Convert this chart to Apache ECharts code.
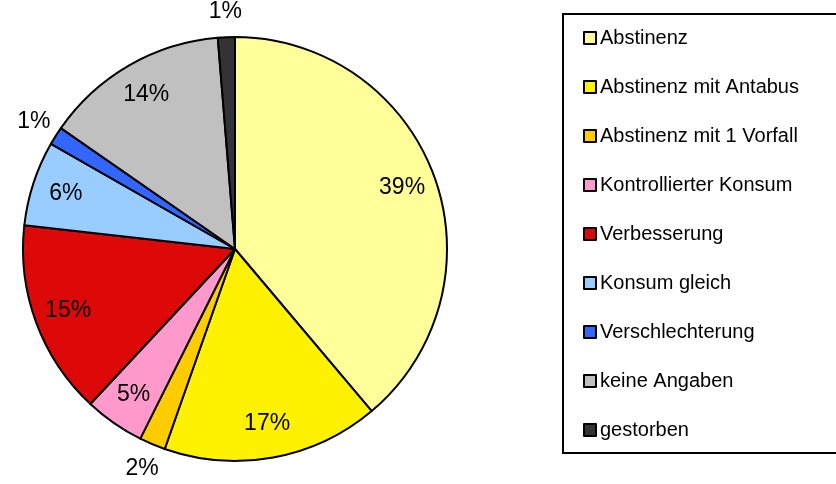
<!DOCTYPE html>
<html>
<head>
<meta charset="utf-8">
<script src="https://cdn.jsdelivr.net/npm/echarts@6/dist/echarts.min.js"></script>
<style>
    html, body { margin: 0; padding: 0; background: #fff; }
    #chart { width: 836px; height: 484px; }
</style>
</head>
<body>
<div id="chart"></div>
<script>
// Daten (Anteile in %, aus dem Bild geschätzt)
const categories = [
    'Abstinenz',
    'Abstinenz mit Antabus',
    'Abstinenz mit 1 Vorfall',
    'Kontrollierter Konsum',
    'Verbesserung',
    'Konsum gleich',
    'Verschlechterung',
    'keine Angaben',
    'gestorben',
];
const values = [39.0, 16.6, 2.0, 4.6, 14.9, 6.5, 1.4, 14.1, 1.3];
const colors = ['#ffff99', '#fff200', '#ffcc00', '#ff99cc', '#dd0808', '#99ccff', '#3366ff', '#c0c0c0', '#333333'];

const font = 'Liberation Sans, Arial, sans-serif';
const center = [235, 249];
const r = 212;

const pieData = categories.map((name, i) => ({ name: name, value: values[i] }));

// kleine Segmente bekommen die Beschriftung außen
const isSmall = v => v < 3;
const pctLabel = p => Math.round(p.percent) + '%';

// unsichtbare Serie nur für die Beschriftung
const labelSeries = (radius, showFn) => ({
    type: 'pie',
    center: center,
    radius: radius,
    startAngle: 90,
    silent: true,
    avoidLabelOverlap: false,
    itemStyle: { color: 'transparent', borderWidth: 0 },
    emphasis: { disabled: true },
    labelLine: { show: false },
    data: pieData.map(d => ({
        name: d.name,
        value: d.value,
        label: { show: showFn(d.value) },
    })),
    label: {
        position: 'inside',
        formatter: pctLabel,
        color: '#000',
        fontFamily: font,
        fontSize: 23,
    },
});

const chart = echarts.init(document.getElementById('chart'), null, { renderer: 'canvas' });

chart.setOption({
    animation: false,
    color: colors,
    legend: {
        orient: 'vertical',
        left: 563,
        top: 14,
        padding: [14, 50, 13, 20],
        borderColor: '#000',
        borderWidth: 2,
        itemGap: 29,
        itemWidth: 12,
        itemHeight: 12,
        icon: 'rect',
        selectedMode: false,
        itemStyle: { borderColor: '#000', borderWidth: 2 },
        textStyle: {
            fontFamily: font,
            fontSize: 20,
            color: '#000',
            lineHeight: 20,
            padding: [0, 0, 0, -1],
        },
        data: categories,
    },
    series: [
        {
            type: 'pie',
            center: center,
            radius: r,
            startAngle: 90,
            silent: true,
            itemStyle: { borderColor: '#000', borderWidth: 2 },
            label: { show: false },
            labelLine: { show: false },
            emphasis: { disabled: true },
            data: pieData,
        },
        labelSeries(r * 1.65, v => !isSmall(v)),
        labelSeries(470, v => isSmall(v)),
    ],
});
</script>
</body>
</html>
